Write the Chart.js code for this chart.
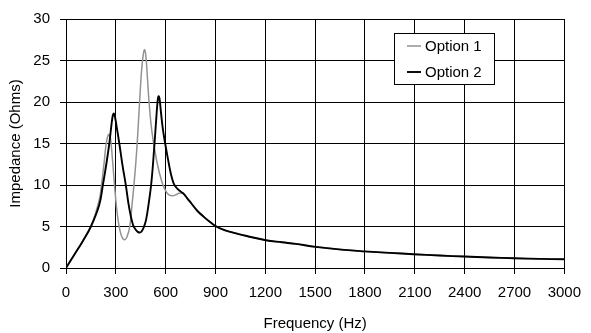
<!DOCTYPE html>
<html>
<head>
<meta charset="utf-8">
<script src="https://cdn.jsdelivr.net/npm/chart.js@4.4.1/dist/chart.umd.min.js"></script>
<style>
  html, body { margin: 0; padding: 0; background: #ffffff; }
  #wrap { width: 591px; height: 333px; position: relative; }
</style>
</head>
<body>
<div id="wrap"><canvas id="c" width="591" height="333"></canvas></div>
<script>
// ---- data ----
const seriesNames = ['Option 1', 'Option 2'];

const freq1 = [0, 50, 100, 150, 200, 215, 230, 242, 252, 260, 268, 278, 288, 298, 310, 325, 340, 354, 368, 384, 397, 409, 420, 430, 443, 455, 465, 473, 481, 490, 500, 518, 547, 577, 600, 620, 640, 660, 680, 705];
const imp1  = [0, 1.6, 3.2, 5.0, 8.2, 10.2, 12.8, 15.0, 15.9, 16.1, 15.6, 13.5, 11.0, 8.6, 6.3, 4.5, 3.6, 3.4, 3.8, 5.0, 7.5, 10.0, 12.6, 15.5, 20.0, 23.8, 25.7, 26.3, 25.5, 23.0, 20.0, 16.3, 12.8, 10.4, 9.3, 8.8, 8.7, 8.8, 9.0, 9.0];

const freq2 = [0, 50, 100, 150, 200, 222, 245, 262, 274, 282, 288, 295, 305, 321, 340, 360, 380, 403, 420, 432, 443, 455, 468, 482, 498, 514, 530, 542, 551, 557, 563, 571, 582, 597, 615, 632, 648, 664, 684, 705];
const imp2  = [0, 1.6, 3.2, 5.0, 7.6, 10.0, 12.8, 15.2, 17.3, 18.4, 18.6, 18.2, 17.0, 15.0, 12.4, 10.0, 7.3, 5.2, 4.6, 4.35, 4.27, 4.4, 4.9, 5.8, 7.8, 10.3, 14.2, 17.6, 20.0, 20.7, 20.4, 18.9, 16.9, 15.0, 13.0, 11.3, 10.2, 9.7, 9.3, 9.0];

// common tail (both options coincide above ~700 Hz)
const tailFreq = [730, 754, 790, 833, 870, 901, 950, 1000, 1088, 1203, 1300, 1384, 1502, 1675, 1797, 1950, 2092, 2250, 2398, 2550, 2697, 2850, 3000];
const tailImp  = [8.4, 7.8, 6.9, 6.1, 5.5, 5.05, 4.6, 4.3, 3.85, 3.35, 3.1, 2.9, 2.55, 2.18, 2.0, 1.82, 1.66, 1.5, 1.38, 1.27, 1.17, 1.1, 1.05];

const xTicks = [0, 300, 600, 900, 1200, 1500, 1800, 2100, 2400, 2700, 3000];
const yTicks = [0, 5, 10, 15, 20, 25, 30];

// ---- build points ----
function pts(fx, fy) { return fx.map((f, i) => ({ x: f, y: fy[i] })); }
const data1 = pts(freq1.concat(tailFreq), imp1.concat(tailImp));
const data2 = pts(freq2.concat(tailFreq), imp2.concat(tailImp));

const FONT = '"Liberation Sans", Arial, sans-serif';
const GRAY = '#929292';
const BLACK = '#000000';

const boxLegend = {
  id: 'boxLegend',
  afterDraw(chart) {
    const ctx = chart.ctx;
    const x0 = 394.5, y0 = 33.5, w = 100, h = 51;
    ctx.save();
    ctx.fillStyle = '#ffffff';
    ctx.fillRect(x0, y0, w, h);
    ctx.strokeStyle = '#000000';
    ctx.lineWidth = 1;
    ctx.strokeRect(x0, y0, w, h);
    const rows = [46, 72];
    chart.data.datasets.forEach((ds, i) => {
      const y = rows[i];
      ctx.strokeStyle = ds.borderColor;
      ctx.lineWidth = ds.borderWidth;
      ctx.beginPath();
      ctx.moveTo(407, y);
      ctx.lineTo(421, y);
      ctx.stroke();
      ctx.fillStyle = '#000000';
      ctx.font = '15px ' + FONT;
      ctx.textBaseline = 'middle';
      ctx.textAlign = 'left';
      ctx.fillText(ds.label, 425, y + 1);
    });
    ctx.restore();
  }
};

new Chart(document.getElementById('c'), {
  type: 'line',
  data: {
    datasets: [
      { label: seriesNames[0], data: data1, borderColor: GRAY, backgroundColor: GRAY, borderWidth: 1.5,
        pointRadius: 0, tension: 0.4, fill: false, order: 1 },
      { label: seriesNames[1], data: data2, borderColor: BLACK, backgroundColor: BLACK, borderWidth: 1.9,
        pointRadius: 0, tension: 0.4, fill: false, order: 0 }
    ]
  },
  options: {
    responsive: false,
    animation: false,
    devicePixelRatio: 1,
    layout: { padding: { left: 0, right: 17, top: 15, bottom: 0 } },
    plugins: { legend: { display: false }, tooltip: { enabled: false } },
    scales: {
      x: {
        type: 'linear', min: 0, max: 3000,
        afterFit(scale) { scale.height = 65; },
        afterBuildTicks(scale) { scale.ticks = xTicks.map(v => ({ value: v })); },
        ticks: { color: '#000', font: { family: FONT, size: 15 }, padding: 10, maxRotation: 0, autoSkip: false,
                 callback: v => String(v) },
        grid: { color: '#000', lineWidth: 1, tickLength: 6, drawTicks: true },
        border: { color: '#000', width: 1 },
        title: { display: true, text: 'Frequency (Hz)', color: '#000', font: { family: FONT, size: 15 },
                 padding: { top: 3, bottom: 0 } }
      },
      y: {
        type: 'linear', min: 0, max: 30,
        afterFit(scale) { scale.width = 66; },
        afterBuildTicks(scale) { scale.ticks = yTicks.map(v => ({ value: v })); },
        ticks: { color: '#000', font: { family: FONT, size: 15 }, padding: 10, autoSkip: false,
                 callback: v => String(v) },
        grid: { color: '#000', lineWidth: 1, tickLength: 6, drawTicks: true },
        border: { color: '#000', width: 1 },
        title: { display: true, text: 'Impedance (Ohms)', color: '#000', font: { family: FONT, size: 15 },
                 padding: { top: 7, bottom: 0 } }
      }
    }
  },
  plugins: [boxLegend]
});
</script>
</body>
</html>
